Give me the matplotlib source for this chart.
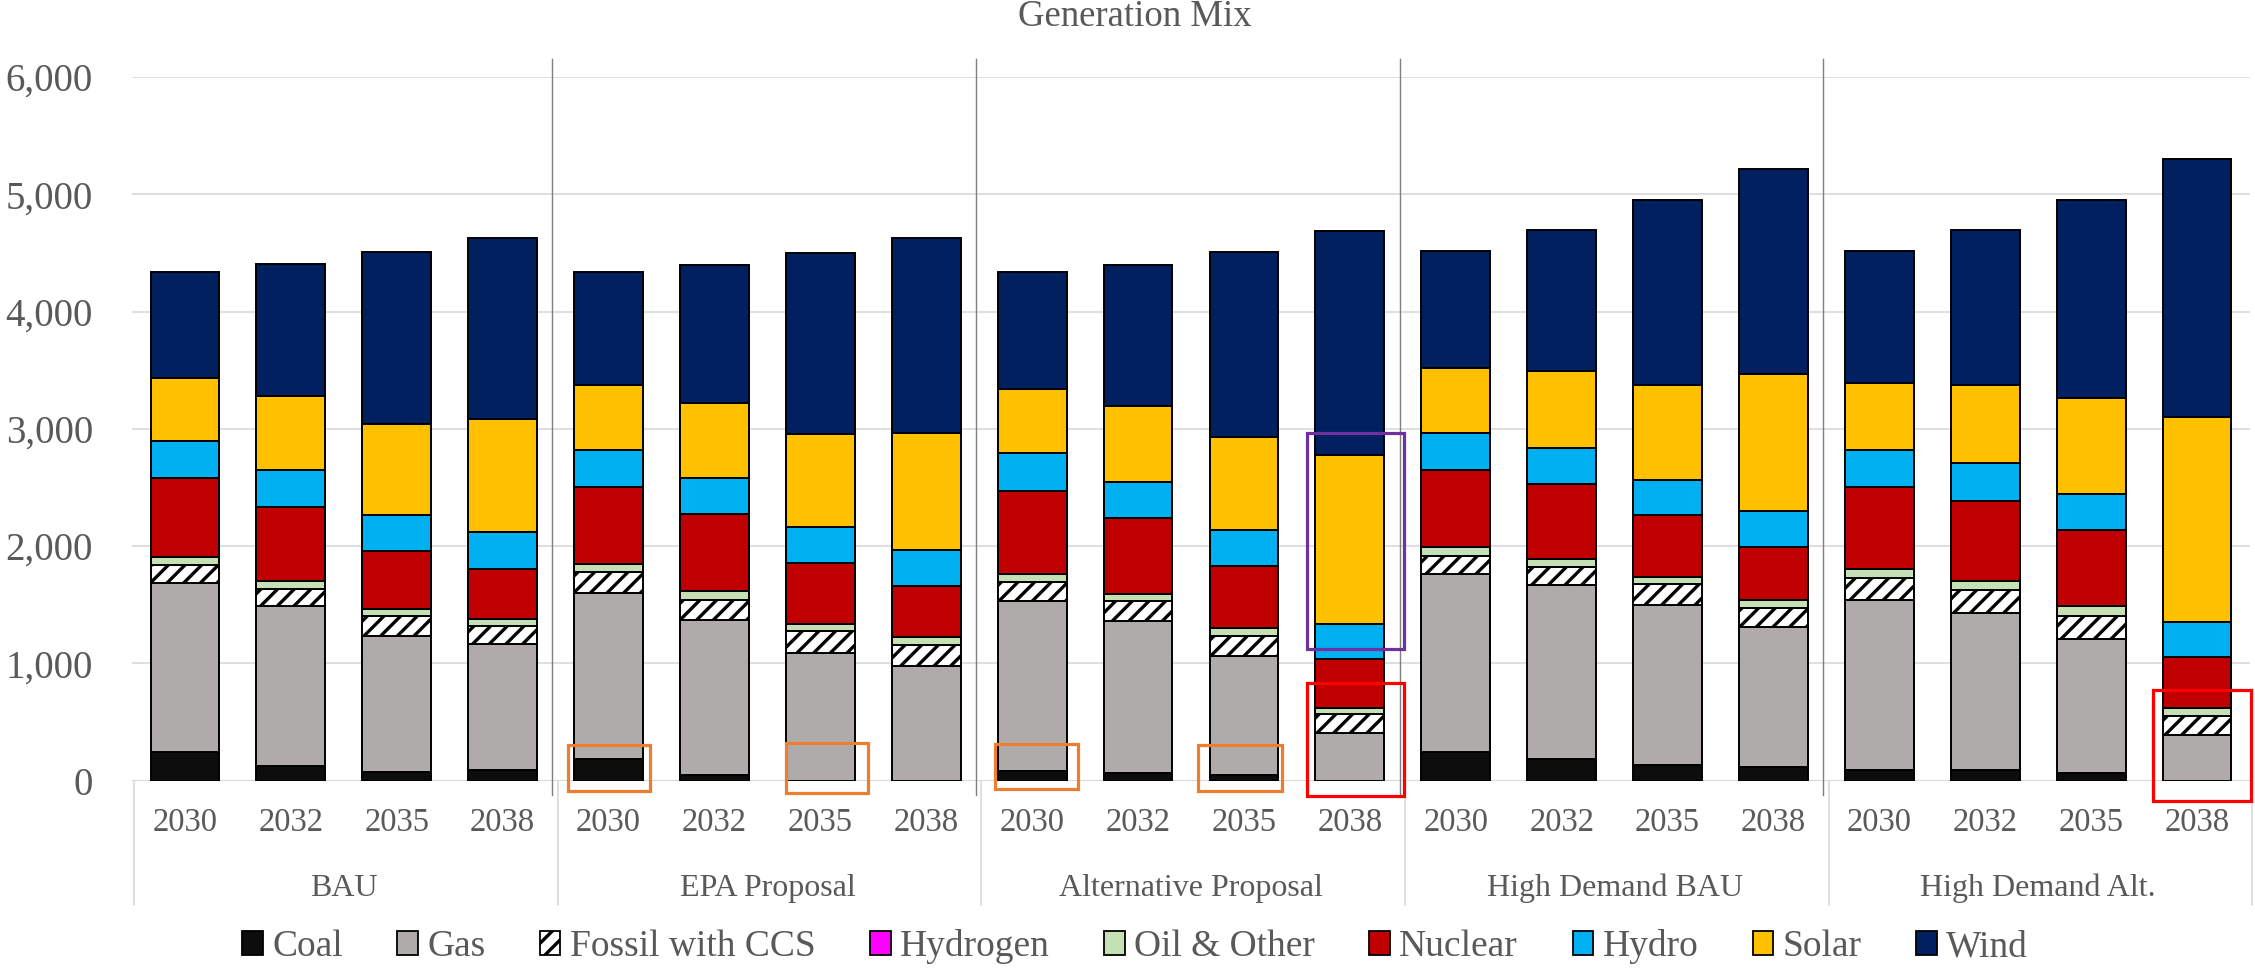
import matplotlib
matplotlib.use("Agg")
import matplotlib.pyplot as plt
from matplotlib.patches import Patch, Rectangle

plt.rcParams['font.family'] = ['Liberation Serif', 'DejaVu Serif']
plt.rcParams['hatch.linewidth'] = 2.4

# data (generation, segment values per bar)
scenarios = ['BAU', 'EPA Proposal', 'Alternative Proposal', 'High Demand BAU', 'High Demand Alt.']
years = ['2030', '2032', '2035', '2038']

coal = [245, 128, 77, 89,
        183, 49, 0, 0,
        86, 68, 49, 0,
        247, 183, 133, 114,
        95, 87, 68, 0]
gas = [1439, 1358, 1161, 1076,
       1417, 1323, 1088, 982,
       1443, 1290, 1016, 405,
       1513, 1482, 1369, 1198,
       1445, 1346, 1137, 388]
ccs = [156, 149, 163, 150,
       176, 171, 185, 177,
       162, 171, 165, 162,
       160, 160, 171, 163,
       190, 194, 202, 163]
hydrogen = [0, 0, 0, 0,
            0, 0, 0, 0,
            0, 0, 0, 0,
            0, 0, 0, 0,
            0, 0, 0, 0]
oil = [69, 70, 65, 66,
       72, 77, 65, 66,
       74, 63, 71, 57,
       69, 69, 65, 65,
       76, 73, 83, 69]
nuclear = [672, 630, 490, 421,
           654, 655, 519, 438,
           709, 649, 527, 413,
           661, 635, 524, 452,
           696, 688, 647, 433]
hydro = [314, 318, 313, 316,
         316, 302, 304, 307,
         316, 304, 313, 301,
         316, 311, 305, 308,
         319, 319, 308, 297]
solar = [538, 627, 775, 962,
         553, 640, 791, 997,
         547, 649, 788, 1435,
         551, 654, 806, 1171,
         574, 669, 821, 1749]
wind = [906, 1124, 1465, 1543,
        967, 1181, 1546, 1659,
        1001, 1206, 1575, 1915,
        996, 1202, 1581, 1746,
        1122, 1320, 1685, 2205]

series = [
    ('Coal', coal, '#0D0D0D', None),
    ('Gas', gas, '#AFABAB', None),
    ('Fossil with CCS', ccs, 'white', '//'),
    ('Hydrogen', hydrogen, '#FF00FF', None),
    ('Oil & Other', oil, '#C5E0B4', None),
    ('Nuclear', nuclear, '#C00000', None),
    ('Hydro', hydro, '#00B0F0', None),
    ('Solar', solar, '#FFC000', None),
    ('Wind', wind, '#002060', None),
]

# highlight boxes: (bar index, x0, x1, y0, y1, colour)
boxes = [
    (4, -0.38, 0.39, -85, 305, '#ED7D31'),
    (6, -0.32, 0.45, -105, 322, '#ED7D31'),
    (8, -0.35, 0.43, -71, 313, '#ED7D31'),
    (10, -0.43, 0.36, -85, 305, '#ED7D31'),
    (11, -0.40, 0.51, -130, 834, '#FF0000'),
    (11, -0.40, 0.51, 1125, 2962, '#7030A0'),
    (19, -0.42, 0.51, -172, 775, '#FF0000'),
]

text_col = '#595959'
W, H = 2255, 969
fig = plt.figure(figsize=(W / 100, H / 100), dpi=100)
ax = fig.add_axes([132 / W, 1 - 780.7 / H, (2250 - 132) / W, (780.7 - 77) / H])

n = len(scenarios) * len(years)
x = list(range(n))
bottom = [0] * n
for name, vals, col, hatch in series:
    ax.bar(x, vals, width=0.65, bottom=bottom, color=col, edgecolor='black',
           linewidth=1.4, hatch=hatch, zorder=3)
    bottom = [b + v for b, v in zip(bottom, vals)]

ax.set_xlim(-0.5, n - 0.5)
ax.set_ylim(0, 6000)
ax.set_yticks([0, 1000, 2000, 3000, 4000, 5000, 6000])
ax.set_yticklabels(['0', '1,000', '2,000', '3,000', '4,000', '5,000', '6,000'])
ax.tick_params(axis='y', length=0, pad=28, labelsize=28, labelcolor=text_col)
ax.set_xticks([])
ax.grid(axis='y', color='#D9D9D9', linewidth=1.2, zorder=0)
for s in ax.spines.values():
    s.set_visible(False)
ax.axhline(0, color='#D9D9D9', linewidth=1.5, zorder=2)

# year labels and scenario labels
xt = ax.get_xaxis_transform()
for i in x:
    ax.text(i, -0.060, years[i % 4], transform=xt, ha='center', va='center',
            fontsize=23.5, color=text_col)
for g, name in enumerate(scenarios):
    ax.text(g * 4 + 1.5, -0.1525, name, transform=xt, ha='center', va='center',
            fontsize=23, color=text_col)

# category separators
for g in range(len(scenarios) + 1):
    xb = g * 4 - 0.5
    ax.plot([xb + 0.02, xb + 0.02], [0, -1060], color='#D9D9D9', linewidth=1.2,
            clip_on=False, zorder=1)
    if 0 < g < len(scenarios):
        ax.plot([xb - 0.03, xb - 0.03], [6154, -122], color='#7F7F7F', linewidth=1.0,
                clip_on=False, zorder=4)

for i, x0, x1, y0, y1, col in boxes:
    ax.add_patch(Rectangle((i + x0, y0), x1 - x0, y1 - y0, fill=False, edgecolor=col,
                           linewidth=2.3, clip_on=False, zorder=5))

fig.text(1135 / W, 1 - 17 / H, 'Generation Mix', ha='center', va='center',
         fontsize=26.5, color=text_col)

handles = [Patch(facecolor=col, edgecolor='black', hatch=hatch, linewidth=1.3, label=name)
           for name, vals, col, hatch in series]
leg = fig.legend(handles=handles, loc='center', bbox_to_anchor=(1135 / W, 1 - 947 / H),
                 ncol=9, frameon=False, fontsize=27, handlelength=0.55, handleheight=0.6,
                 handletextpad=0.25, columnspacing=1.45, labelcolor=text_col)

fig.savefig('out.png', dpi=100)
